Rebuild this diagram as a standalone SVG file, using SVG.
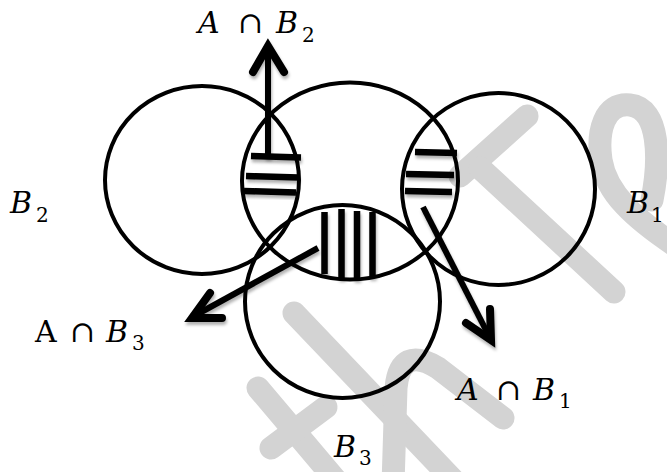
<svg xmlns="http://www.w3.org/2000/svg" width="667" height="472" viewBox="0 0 667 472">
  <style>
    .ring { fill: none; stroke: #000; stroke-width: 4; }
    .bar { stroke: #000; stroke-width: 6.5; stroke-linecap: butt; }
    .shaft { fill: none; stroke: #000; stroke-width: 6; stroke-linecap: butt; }
    .head { fill: none; stroke: #000; stroke-width: 8; stroke-linecap: round; stroke-linejoin: miter; stroke-miterlimit: 10; }
    .wm { fill: none; stroke: #d3d3d3; stroke-width: 23; stroke-linecap: round; stroke-linejoin: round; }
    .lbl { font-family: "DejaVu Serif", "Liberation Serif", serif; font-size: 30px; fill: #000; }
    .it { font-style: italic; }
    .sub { font-size: 20px; font-style: normal; }
    .sym { font-size: 30px; }
  </style>
  <defs>
    <filter id="sh" x="-20%" y="-20%" width="140%" height="140%">
      <feDropShadow dx="1" dy="3" stdDeviation="1.6" flood-color="#000" flood-opacity="0.3"/>
    </filter>
  </defs>
  <rect width="667" height="472" fill="#fff"/>

  <g id="watermark">
    <path class="wm" d="M258 388 L340 485"/>
    <path class="wm" d="M271 448 L326 407"/>
    <path class="wm" d="M294 313 L458 485"/>
    <path class="wm" d="M393 485 L396 388 Q400 345 438 368 L503 418"/>
    <path class="wm" d="M527 116 L460 176"/>
    <path class="wm" d="M480 168 L614 292"/>
    <path class="wm" d="M652 200 C660 160 660 108 630 105 C604 102 597 132 601 160 C606 192 632 218 685 252"/>
  </g>

  <g id="node-B2"><ellipse class="ring" cx="202" cy="180" rx="97" ry="94"/></g>
  <g id="node-A"><ellipse class="ring" cx="350" cy="181" rx="108" ry="98.5"/></g>
  <g id="node-B1"><ellipse class="ring" cx="498.5" cy="189" rx="96.5" ry="96"/></g>
  <g id="node-B3"><ellipse class="ring" cx="342.5" cy="301.5" rx="97.5" ry="96.5"/></g>

  <g id="hatch-AB2" filter="url(#sh)">
    <line class="bar" x1="251" y1="156" x2="301" y2="157.5"/>
    <line class="bar" x1="246" y1="176" x2="299" y2="177.5"/>
    <line class="bar" x1="244" y1="191" x2="296" y2="192.5"/>
  </g>
  <g id="hatch-AB1" filter="url(#sh)">
    <line class="bar" x1="415" y1="152" x2="457" y2="153"/>
    <line class="bar" x1="406" y1="174" x2="454" y2="175"/>
    <line class="bar" x1="405" y1="191" x2="452" y2="192"/>
  </g>
  <g id="hatch-AB3" filter="url(#sh)">
    <line class="bar" x1="324.5" y1="212" x2="324.5" y2="274"/>
    <line class="bar" x1="341.5" y1="209" x2="341.5" y2="279"/>
    <line class="bar" x1="357" y1="211" x2="357" y2="280"/>
    <line class="bar" x1="372.5" y1="212" x2="372.5" y2="278"/>
  </g>

  <g id="connectors" filter="url(#sh)">
    <g id="arrow-AB2">
      <line class="shaft" x1="268" y1="158" x2="268" y2="46"/>
      <polyline class="head" points="253,72 268,46 284,72"/>
    </g>
    <g id="arrow-AB3">
      <line class="shaft" x1="318" y1="248" x2="194" y2="316"/>
      <polyline class="head" points="210,293 192,318 222,318"/>
    </g>
    <g id="arrow-AB1">
      <line class="shaft" x1="423" y1="207" x2="489" y2="336"/>
      <polyline class="head" points="466,323 491,340 490,309"/>
    </g>
  </g>

  <g id="label-AB2">
    <text class="lbl" y="33"><tspan class="it" x="198">A</tspan><tspan class="sym" x="238">∩</tspan><tspan class="it" x="276">B</tspan><tspan class="sub" x="302" y="42">2</tspan></text>
  </g>
  <g id="label-B2">
    <text class="lbl" y="213"><tspan class="it" x="10">B</tspan><tspan class="sub" x="36" y="222">2</tspan></text>
  </g>
  <g id="label-B1">
    <text class="lbl" y="213"><tspan class="it" x="627">B</tspan><tspan class="sub" x="651" y="222">1</tspan></text>
  </g>
  <g id="label-AB3">
    <text class="lbl" y="342"><tspan x="35">A</tspan><tspan class="sym" x="70">∩</tspan><tspan class="it" x="106">B</tspan><tspan class="sub" x="132" y="350">3</tspan></text>
  </g>
  <g id="label-AB1">
    <text class="lbl" y="400"><tspan class="it" x="457">A</tspan><tspan class="sym" x="496">∩</tspan><tspan class="it" x="533">B</tspan><tspan class="sub" x="559" y="408">1</tspan></text>
  </g>
  <g id="label-B3">
    <text class="lbl" y="457"><tspan class="it" x="334">B</tspan><tspan class="sub" x="359" y="465">3</tspan></text>
  </g>
</svg>
